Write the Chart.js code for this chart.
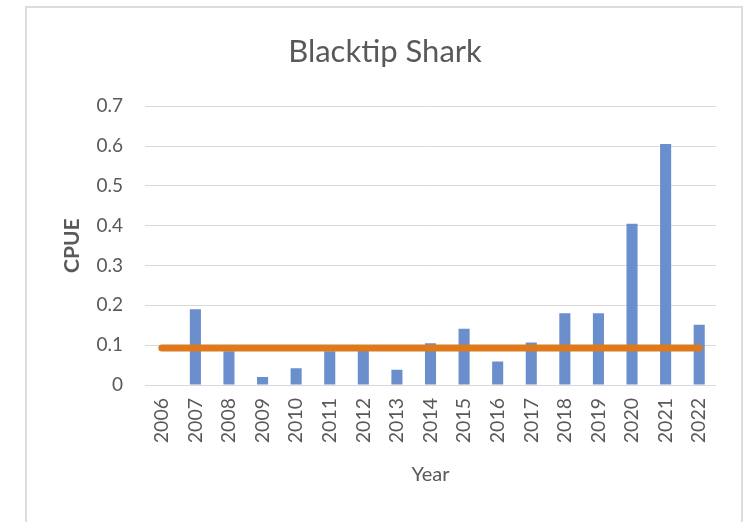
<!DOCTYPE html>
<html>
<head>
<meta charset="utf-8">
<script src="https://cdn.jsdelivr.net/npm/chart.js@4"></script>
<style>
    html, body { margin: 0; padding: 0; background: #fff; overflow: hidden; }
    #marco {
        position: absolute; left: 25px; top: 6px; width: 718px; height: 600px;
        border: 2px solid #dcdcdc; box-sizing: border-box;
    }
    #lienzo { position: absolute; left: 0; top: 0; }
</style>
</head>
<body>
<div id="marco"></div>
<canvas id="lienzo" width="744" height="522"></canvas>
<script>
// Datos
const anios = ['2006', '2007', '2008', '2009', '2010', '2011', '2012', '2013', '2014',
    '2015', '2016', '2017', '2018', '2019', '2020', '2021', '2022'];
const cpue = [0, 0.19, 0.085, 0.02, 0.042, 0.085, 0.09, 0.038, 0.105,
    0.141, 0.059, 0.107, 0.18, 0.18, 0.405, 0.605, 0.151];
const referencia = [0.093, 0.093, 0.093, 0.093, 0.093, 0.093, 0.093, 0.093, 0.093,
    0.093, 0.093, 0.093, 0.093, 0.093, 0.093, 0.093, 0.093];
const etiquetasY = ['0', '0.1', '0.2', '0.3', '0.4', '0.5', '0.6', '0.7'];

const gris = '#595959';
Chart.defaults.font.family = 'Lato';
Chart.defaults.color = gris;

new Chart(document.getElementById('lienzo').getContext('2d'), {
    type: 'bar',
    data: {
        labels: anios,
        datasets: [{
            type: 'line',
            label: 'Referencia',
            data: referencia,
            borderColor: '#df7a1c',
            borderWidth: 7,
            borderCapStyle: 'round',
            pointRadius: 0,
            fill: false,
            order: 0
        }, {
            label: 'CPUE',
            data: cpue,
            backgroundColor: '#6a8fcc',
            borderWidth: 0,
            categoryPercentage: 1,
            barPercentage: 0.33,
            order: 1
        }]
    },
    options: {
        responsive: false,
        animation: false,
        // padding izquierdo para centrar el título sobre el marco
        layout: { padding: { left: 54, right: 28, top: 0, bottom: 0 } },
        plugins: {
            legend: { display: false },
            tooltip: { enabled: false },
            title: {
                display: true,
                text: 'Blacktip Shark',
                color: gris,
                font: { size: 31, weight: 'normal' },
                padding: { top: 33, bottom: 36 }
            }
        },
        scales: {
            x: {
                grid: { display: false, drawTicks: false },
                border: { display: false },
                ticks: {
                    font: { size: 19.5 },
                    minRotation: 90,
                    maxRotation: 90,
                    padding: 13,
                    autoSkip: false
                },
                title: {
                    display: true,
                    text: 'Year',
                    font: { size: 20 },
                    padding: { bottom: 35 }
                },
                afterFit: function (escala) { escala.height = 137; }
            },
            y: {
                min: 0,
                max: 0.7,
                grid: { color: '#d9d9d9', lineWidth: 1, drawTicks: false },
                border: { display: false },
                ticks: {
                    stepSize: 0.1,
                    font: { size: 19 },
                    padding: 22,
                    callback: function (valor, i) { return etiquetasY[i]; }
                },
                title: {
                    display: true,
                    text: 'CPUE',
                    font: { size: 21, weight: 'bold' },
                    padding: { top: 6 }
                },
                afterFit: function (escala) { escala.width = 91; }
            }
        }
    }
});
</script>
</body>
</html>
